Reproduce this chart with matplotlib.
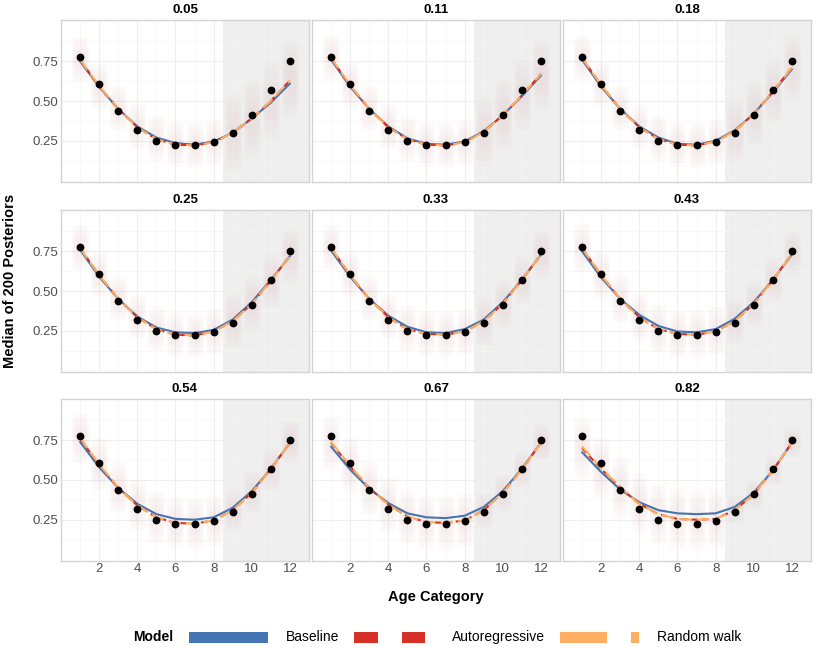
import numpy as np
import matplotlib
matplotlib.use("Agg")
import matplotlib.pyplot as plt
from matplotlib.patches import Rectangle

plt.rcParams['font.family'] = ['Liberation Sans', 'DejaVu Sans']

# ---------------- data ----------------
ages = [1, 2, 3, 4, 5, 6, 7, 8, 9, 10, 11, 12]
observed = [0.78, 0.61, 0.44, 0.32, 0.25, 0.22, 0.22, 0.24, 0.30, 0.41, 0.57, 0.75]
panel_labels = ['0.05', '0.11', '0.18', '0.25', '0.33', '0.43', '0.54', '0.67', '0.82']
holdout_start = 8.5

baseline = [
    [0.75, 0.59, 0.45, 0.34, 0.27, 0.235, 0.225, 0.245, 0.30, 0.39, 0.49, 0.61],
    [0.76, 0.59, 0.45, 0.34, 0.265, 0.23, 0.225, 0.245, 0.31, 0.41, 0.53, 0.66],
    [0.76, 0.59, 0.45, 0.34, 0.27, 0.23, 0.225, 0.25, 0.315, 0.42, 0.555, 0.70],
    [0.76, 0.59, 0.45, 0.34, 0.27, 0.24, 0.235, 0.255, 0.32, 0.43, 0.57, 0.72],
    [0.755, 0.59, 0.45, 0.345, 0.275, 0.24, 0.235, 0.26, 0.32, 0.43, 0.57, 0.73],
    [0.75, 0.585, 0.45, 0.35, 0.28, 0.245, 0.24, 0.26, 0.325, 0.43, 0.57, 0.73],
    [0.74, 0.58, 0.45, 0.35, 0.285, 0.255, 0.25, 0.265, 0.325, 0.43, 0.57, 0.735],
    [0.71, 0.565, 0.445, 0.355, 0.29, 0.265, 0.26, 0.275, 0.33, 0.43, 0.57, 0.735],
    [0.675, 0.55, 0.44, 0.36, 0.31, 0.29, 0.285, 0.29, 0.33, 0.42, 0.56, 0.735],
]
autoregressive = [
    [0.76, 0.59, 0.45, 0.335, 0.26, 0.225, 0.22, 0.24, 0.30, 0.39, 0.50, 0.63],
    [0.77, 0.595, 0.45, 0.335, 0.26, 0.225, 0.22, 0.24, 0.305, 0.41, 0.535, 0.67],
    [0.77, 0.60, 0.45, 0.335, 0.26, 0.225, 0.22, 0.245, 0.31, 0.42, 0.56, 0.71],
    [0.77, 0.60, 0.45, 0.335, 0.26, 0.225, 0.22, 0.245, 0.31, 0.42, 0.565, 0.72],
    [0.77, 0.60, 0.45, 0.335, 0.26, 0.23, 0.225, 0.245, 0.31, 0.42, 0.57, 0.73],
    [0.77, 0.60, 0.45, 0.335, 0.26, 0.23, 0.225, 0.245, 0.31, 0.42, 0.57, 0.735],
    [0.76, 0.595, 0.45, 0.34, 0.265, 0.23, 0.225, 0.245, 0.31, 0.42, 0.57, 0.735],
    [0.735, 0.585, 0.45, 0.345, 0.27, 0.235, 0.23, 0.245, 0.31, 0.42, 0.565, 0.735],
    [0.70, 0.57, 0.45, 0.35, 0.285, 0.255, 0.25, 0.255, 0.31, 0.41, 0.56, 0.735],
]
random_walk = [
    [0.76, 0.595, 0.45, 0.335, 0.26, 0.225, 0.22, 0.24, 0.30, 0.39, 0.50, 0.63],
    [0.77, 0.60, 0.45, 0.335, 0.26, 0.225, 0.22, 0.24, 0.305, 0.41, 0.535, 0.67],
    [0.77, 0.60, 0.45, 0.335, 0.26, 0.225, 0.22, 0.245, 0.31, 0.42, 0.56, 0.71],
    [0.77, 0.60, 0.45, 0.335, 0.26, 0.225, 0.22, 0.245, 0.31, 0.42, 0.565, 0.72],
    [0.77, 0.60, 0.45, 0.335, 0.26, 0.23, 0.225, 0.245, 0.31, 0.42, 0.57, 0.73],
    [0.77, 0.60, 0.45, 0.335, 0.26, 0.23, 0.225, 0.245, 0.31, 0.42, 0.57, 0.735],
    [0.765, 0.60, 0.45, 0.34, 0.265, 0.23, 0.225, 0.245, 0.31, 0.42, 0.57, 0.735],
    [0.74, 0.59, 0.45, 0.345, 0.27, 0.235, 0.23, 0.245, 0.31, 0.42, 0.565, 0.735],
    [0.71, 0.575, 0.455, 0.35, 0.285, 0.255, 0.25, 0.255, 0.31, 0.41, 0.56, 0.735],
]
# half-extent of the posterior cloud: ages 1-8 / ages 9-12
spread_early = [0.14, 0.14, 0.14, 0.14, 0.14, 0.15, 0.16, 0.17, 0.19]
spread_late = [0.24, 0.22, 0.20, 0.17, 0.15, 0.14, 0.13, 0.11, 0.09]

model_names = ['Baseline', 'Autoregressive', 'Random walk']
model_colors = ['#4575b4', '#d73027', '#fdae61']

# ---------------- layout ----------------
W, H = 816, 648
fig = plt.figure(figsize=(W / 100, H / 100), dpi=100)
col_left = [61, 312, 563]
row_top = [20, 210, 399]
pw, ph = 248, 162

def px_axes(l, t, w, h):
    return fig.add_axes([l / W, 1 - (t + h) / H, w / W, h / H])

cloud_rgb = np.array([0.80, 0.56, 0.54])

for i, lab in enumerate(panel_labels):
    r, c = divmod(i, 3)
    ax = px_axes(col_left[c], row_top[r], pw, ph)
    ax.set_xlim(0.0, 13.0)
    ax.set_ylim(-0.01, 1.01)

    # grid
    ax.set_xticks([2, 4, 6, 8, 10, 12])
    ax.set_xticks([1, 3, 5, 7, 9, 11], minor=True)
    ax.set_yticks([0.25, 0.50, 0.75])
    ax.set_yticks([0.125, 0.375, 0.625, 0.875], minor=True)
    ax.grid(True, which='major', color='#eeeeee', lw=0.8, zorder=0)
    ax.grid(True, which='minor', color='#f6f6f6', lw=0.5, zorder=0)
    ax.set_axisbelow(True)
    ax.tick_params(which='both', length=0)
    ax.tick_params(axis='both', labelsize=9.5, labelcolor='#4d4d4d')
    ax.tick_params(axis='y', pad=2)
    ax.tick_params(axis='x', pad=1.5)
    ax.yaxis.set_major_formatter(matplotlib.ticker.FormatStrFormatter('%.2f'))
    if c != 0:
        ax.tick_params(axis='y', labelleft=False)
    if r != 2:
        ax.tick_params(axis='x', labelbottom=False)
    for sp in ax.spines.values():
        sp.set_color('#d3d3d3')
        sp.set_linewidth(1.0)

    # held-out region
    ax.axvspan(holdout_start, 13.0, color='#bdbdbd', alpha=0.23, lw=0, zorder=0.5)

    # posterior clouds (soft vertical gradient)
    for k, a in enumerate(ages):
        half = spread_early[i] if a < holdout_start else spread_late[i]
        centre = autoregressive[i][k]
        yy = np.linspace(-1, 1, 60)
        xx = np.linspace(-1, 1, 20)
        prof = np.exp(-0.5 * (yy * 1.7) ** 2)[:, None] * np.exp(-0.5 * (xx * 1.2) ** 4)[None, :]
        img = np.zeros((60, 20, 4))
        img[..., :3] = cloud_rgb
        img[..., 3] = 0.17 * prof
        ax.imshow(img, extent=[a - 0.42, a + 0.42, centre - half, centre + half],
                  aspect='auto', origin='lower', zorder=1, interpolation='bilinear')

    ax.plot(ages, baseline[i], color=model_colors[0], lw=1.5, zorder=3,
            solid_capstyle='round')
    ax.plot(ages, autoregressive[i], color=model_colors[1], lw=1.5, zorder=4,
            dashes=(3, 2))
    ax.plot(ages, random_walk[i], color=model_colors[2], lw=1.5, zorder=5,
            dashes=(6, 2.5))
    ax.plot(ages, observed, 'o', color='black', ms=4.6, zorder=6)
    ax.set_xlim(0.0, 13.0)
    ax.set_ylim(-0.01, 1.01)
    ax.set_title(lab, fontsize=9.5, fontweight='bold', pad=5)

# axis titles
fig.text(10 / W, 1 - 281 / H, 'Median of 200 Posteriors', rotation=90,
         ha='center', va='center', fontsize=10.5, fontweight='bold')
fig.text(436 / W, 1 - 597 / H, 'Age Category', ha='center', va='center',
         fontsize=10.5, fontweight='bold')

# legend (drawn manually in figure pixels)
ly = 637
kh = 11
fig.text(133 / W, 1 - ly / H, 'Model', ha='left', va='center',
         fontsize=10, fontweight='bold')
key_segments = [
    [(189, 268)],
    [(354, 378), (402, 425)],
    [(560, 607), (631, 639)],
]
label_x = [286, 452, 657]
for name, col, segs, tx in zip(model_names, model_colors, key_segments, label_x):
    for x0, x1 in segs:
        fig.patches.append(Rectangle((x0 / W, 1 - (ly + kh / 2) / H),
                                     (x1 - x0) / W, kh / H,
                                     transform=fig.transFigure, color=col, lw=0))
    fig.text(tx / W, 1 - ly / H, name, ha='left', va='center', fontsize=10)

fig.savefig('out.png', dpi=100)
